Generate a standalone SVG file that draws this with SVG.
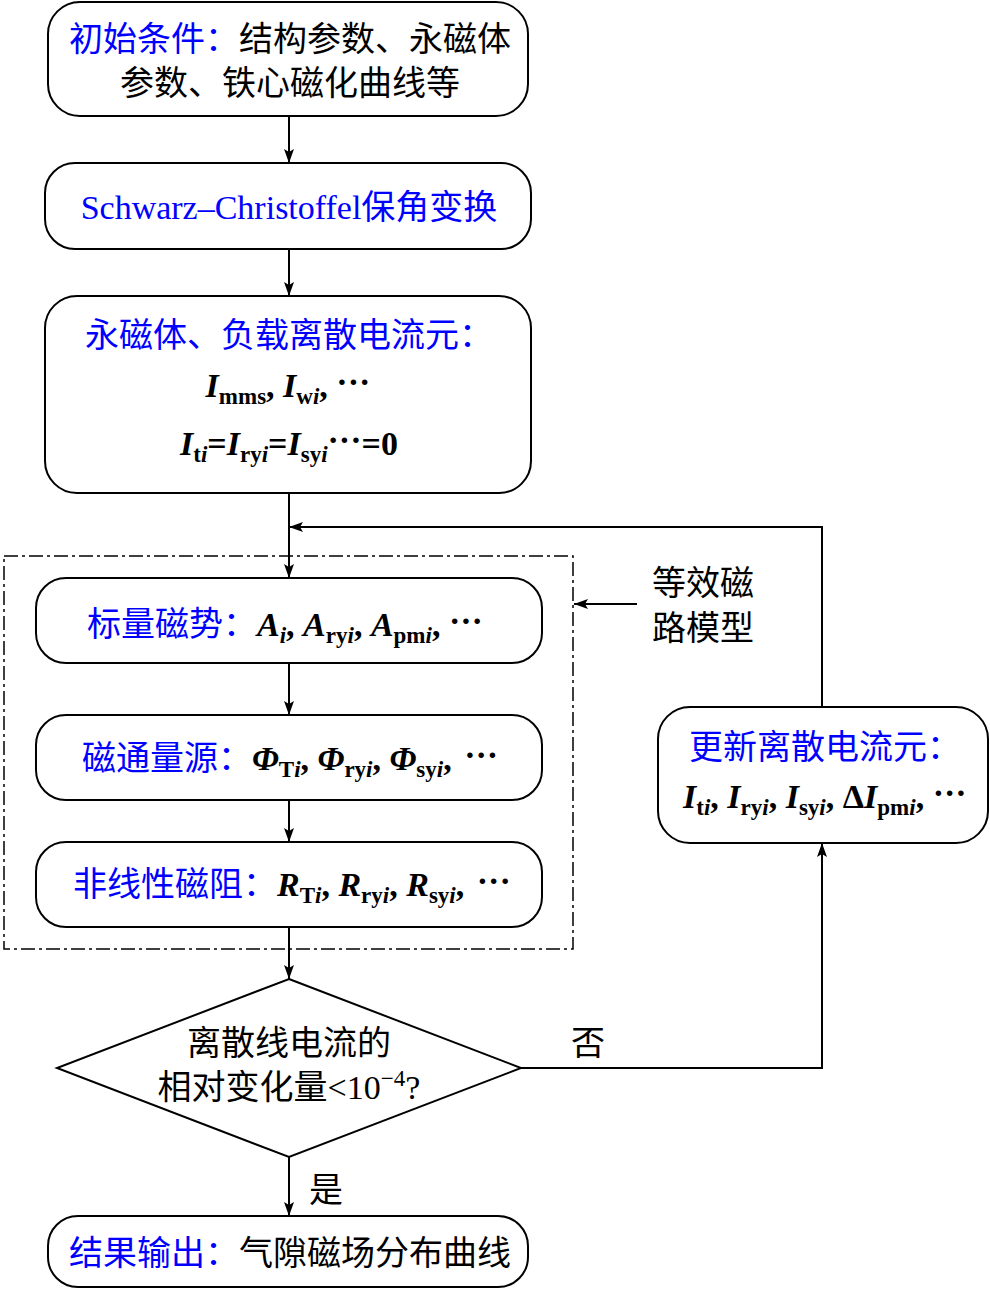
<svg xmlns="http://www.w3.org/2000/svg" width="990" height="1289" viewBox="0 0 990 1289">
<defs>
<marker id="arr" viewBox="0 0 14 10" refX="14" refY="5" markerWidth="14" markerHeight="10" markerUnits="userSpaceOnUse" orient="auto">
<path d="M0,0 L14,5 L0,10 L3,5 z" fill="#000"/>
</marker>
<style>
.box{fill:#fff;stroke:#000;stroke-width:2}
.ln{fill:none;stroke:#000;stroke-width:2}
.cjk{font-family:"Liberation Serif","Noto Sans CJK SC",serif;font-size:34px;fill:#000}
.blue{fill:#0000ff}
.m{font-family:"Liberation Serif","Noto Sans CJK SC",serif;font-size:34px;fill:#000;font-weight:bold}
.b{font-weight:bold}
.it{font-style:italic}
.sub{font-size:23px}
</style>
</defs>
<rect x="4" y="556" width="569" height="393" fill="none" stroke="#000" stroke-width="1.5" stroke-dasharray="14 4 3 4"/>
<g id="connectors">
<line class="ln" x1="289" y1="116" x2="289" y2="163" marker-end="url(#arr)"/>
<line class="ln" x1="289" y1="249" x2="289" y2="296" marker-end="url(#arr)"/>
<line class="ln" x1="289" y1="493" x2="289" y2="578" marker-end="url(#arr)"/>
<polyline class="ln" points="822,707 822,527 289,527" marker-end="url(#arr)"/>
<line class="ln" x1="289" y1="663" x2="289" y2="715" marker-end="url(#arr)"/>
<line class="ln" x1="289" y1="800" x2="289" y2="842" marker-end="url(#arr)"/>
<line class="ln" x1="289" y1="927" x2="289" y2="979" marker-end="url(#arr)"/>
<polyline class="ln" points="521,1068 822,1068 822,843" marker-end="url(#arr)"/>
<line class="ln" x1="289" y1="1157" x2="289" y2="1216" marker-end="url(#arr)"/>
<line class="ln" x1="637" y1="604" x2="574" y2="604" marker-end="url(#arr)"/>
</g>
<g id="n1">
<rect class="box" x="48" y="2" width="480" height="114" rx="32"/>
<text class="cjk" x="290" y="51" text-anchor="middle"><tspan class="blue">初始条件：</tspan>结构参数、永磁体</text>
<text class="cjk" x="290" y="95" text-anchor="middle">参数、铁心磁化曲线等</text>
</g>
<g id="n2">
<rect class="box" x="45" y="163" width="486" height="86" rx="30"/>
<text class="cjk blue" x="289" y="219" text-anchor="middle">Schwarz–Christoffel保角变换</text>
</g>
<g id="n3">
<rect class="box" x="45" y="296" width="486" height="197" rx="32"/>
<text class="cjk blue" x="289" y="347" text-anchor="middle">永磁体、负载离散电流元：</text>
<text class="m" x="288" y="397" text-anchor="middle"><tspan class="it">I</tspan><tspan class="sub" dy="7">mms</tspan><tspan dy="-7">, </tspan><tspan class="it">I</tspan><tspan class="sub" dy="7">w<tspan class="it">i</tspan></tspan><tspan dy="-7">, </tspan><tspan dy="-4">···</tspan></text>
<text class="m" x="289" y="455" text-anchor="middle"><tspan class="it">I</tspan><tspan class="sub" dy="7">t<tspan class="it">i</tspan></tspan><tspan dy="-7">=</tspan><tspan class="it">I</tspan><tspan class="sub" dy="7">ry<tspan class="it">i</tspan></tspan><tspan dy="-7">=</tspan><tspan class="it">I</tspan><tspan class="sub" dy="7">sy<tspan class="it">i</tspan></tspan><tspan dy="-11">···</tspan><tspan dy="4">=0</tspan></text>
</g>
<g id="n4">
<rect class="box" x="36" y="578" width="506" height="85" rx="30"/>
<text class="cjk" x="87" y="636"><tspan class="blue">标量磁势：</tspan><tspan class="it b">A</tspan><tspan class="sub it b" dy="7">i</tspan><tspan class="b" dy="-7">, </tspan><tspan class="it b">A</tspan><tspan class="sub b" dy="7">ry<tspan class="it">i</tspan></tspan><tspan class="b" dy="-7">, </tspan><tspan class="it b">A</tspan><tspan class="sub b" dy="7">pm<tspan class="it">i</tspan></tspan><tspan class="b" dy="-7">, </tspan><tspan class="b" dy="-4">···</tspan></text>
</g>
<g id="n5">
<rect class="box" x="36" y="715" width="506" height="85" rx="30"/>
<text class="cjk" x="82" y="770"><tspan class="blue">磁通量源：</tspan><tspan class="it b">Φ</tspan><tspan class="sub b" dy="7">T<tspan class="it">i</tspan></tspan><tspan class="b" dy="-7">, </tspan><tspan class="it b">Φ</tspan><tspan class="sub b" dy="7">ry<tspan class="it">i</tspan></tspan><tspan class="b" dy="-7">, </tspan><tspan class="it b">Φ</tspan><tspan class="sub b" dy="7">sy<tspan class="it">i</tspan></tspan><tspan class="b" dy="-7">, </tspan><tspan class="b" dx="4" dy="-4">···</tspan></text>
</g>
<g id="n6">
<rect class="box" x="36" y="842" width="506" height="85" rx="30"/>
<text class="cjk" x="73" y="896"><tspan class="blue">非线性磁阻：</tspan><tspan class="it b">R</tspan><tspan class="sub b" dy="7">T<tspan class="it">i</tspan></tspan><tspan class="b" dy="-7">, </tspan><tspan class="it b">R</tspan><tspan class="sub b" dy="7">ry<tspan class="it">i</tspan></tspan><tspan class="b" dy="-7">, </tspan><tspan class="it b">R</tspan><tspan class="sub b" dy="7">sy<tspan class="it">i</tspan></tspan><tspan class="b" dy="-7">, </tspan><tspan class="b" dx="4" dy="-4">···</tspan></text>
</g>
<g id="n7">
<rect class="box" x="658" y="707" width="330" height="136" rx="32"/>
<text class="cjk blue" x="689" y="759">更新离散电流元：</text>
<text class="m" x="683" y="808"><tspan class="it">I</tspan><tspan class="sub" dy="7">t<tspan class="it">i</tspan></tspan><tspan dy="-7">, </tspan><tspan class="it">I</tspan><tspan class="sub" dy="7">ry<tspan class="it">i</tspan></tspan><tspan dy="-7">, </tspan><tspan class="it">I</tspan><tspan class="sub" dy="7">sy<tspan class="it">i</tspan></tspan><tspan dy="-7">, Δ</tspan><tspan class="it">I</tspan><tspan class="sub" dy="7">pm<tspan class="it">i</tspan></tspan><tspan dy="-7">, </tspan><tspan dy="-4">···</tspan></text>
</g>
<g id="n8">
<polygon class="box" points="289,979 521,1068 289,1157 57,1068"/>
<text class="cjk" x="289" y="1055" text-anchor="middle">离散线电流的</text>
<text class="cjk" x="289" y="1099" text-anchor="middle">相对变化量&lt;10<tspan class="sub" dy="-13">−4</tspan><tspan dy="13">?</tspan></text>
</g>
<g id="n9">
<rect class="box" x="48" y="1216" width="480" height="71" rx="30"/>
<text class="cjk" x="290" y="1265" text-anchor="middle"><tspan class="blue">结果输出：</tspan>气隙磁场分布曲线</text>
</g>
<g id="labels">
<text class="cjk" x="703" y="595" text-anchor="middle">等效磁</text>
<text class="cjk" x="703" y="640" text-anchor="middle">路模型</text>
<text class="cjk" x="588" y="1055" text-anchor="middle">否</text>
<text class="cjk" x="326" y="1202" text-anchor="middle">是</text>
</g>
</svg>
